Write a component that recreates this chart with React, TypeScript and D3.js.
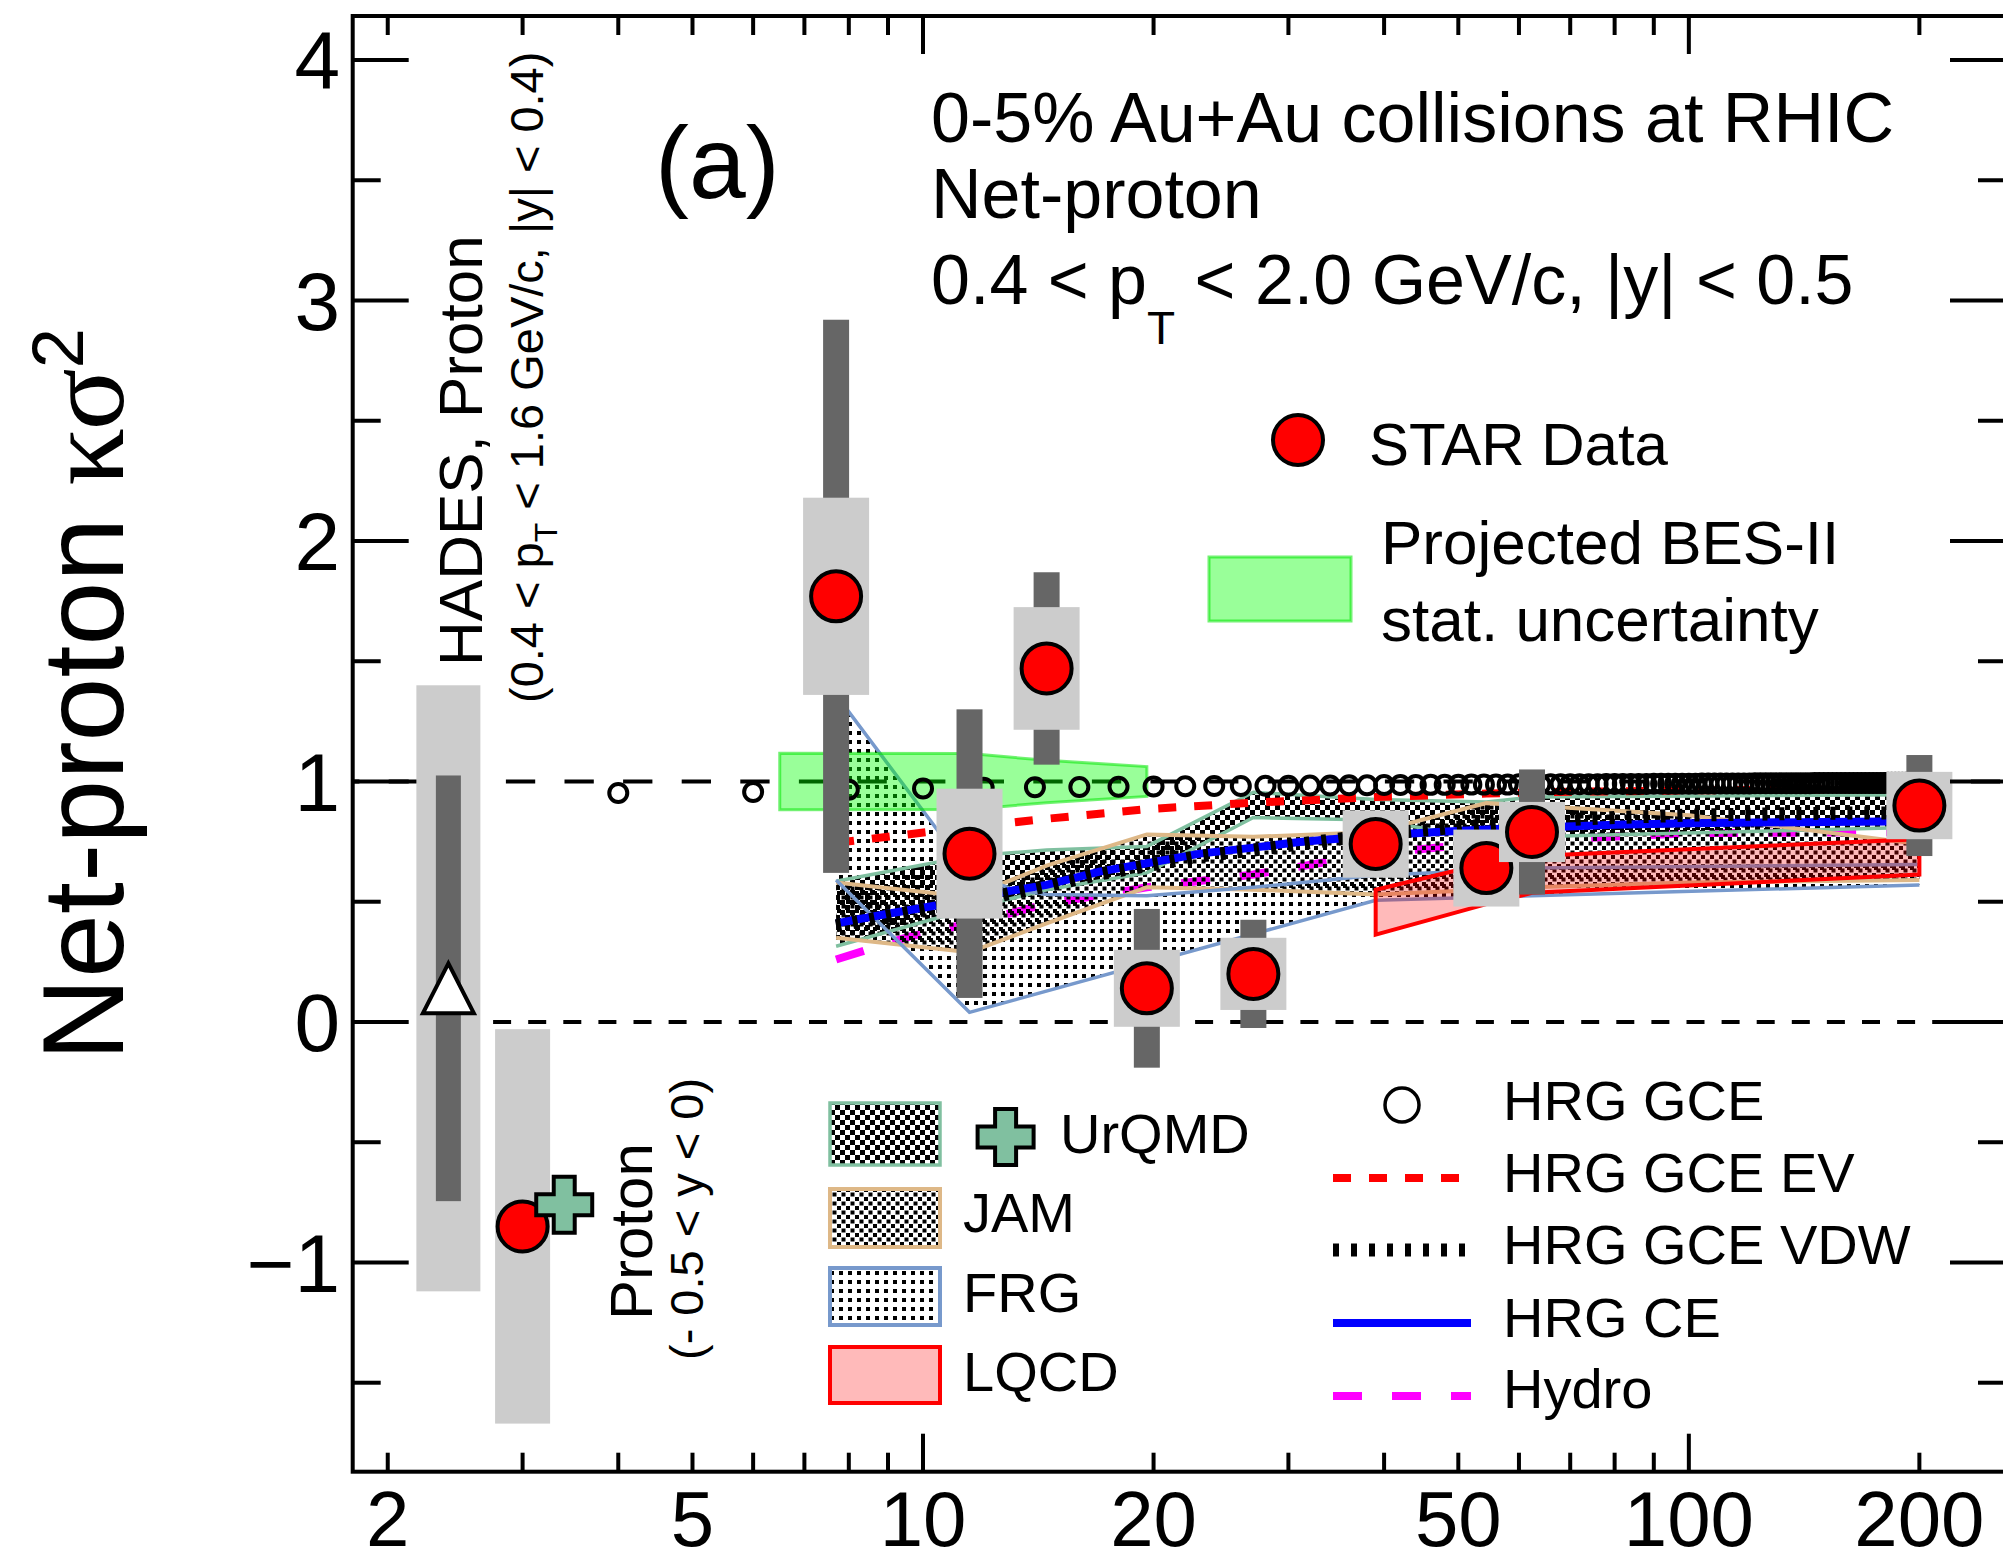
import React from 'react';
import * as d3 from 'd3';

const WIDTH = 2003;
const HEIGHT = 1564;
const FRAME = { left: 352.7, right: 2006, top: 16, bottom: 1471.7 };
const SANS = "'Liberation Sans', Arial, Helvetica, sans-serif";
const SERIF = "'Liberation Serif', 'DejaVu Serif', serif";

// Axis ticks
const xTickMajor = [10, 100];
const xTickMinor = [2, 3, 4, 5, 6, 7, 8, 9, 20, 30, 40, 50, 60, 70, 80, 90, 200];
const xTickLabels = [2, 5, 10, 20, 50, 100, 200];
const yTickMajor = [-1, 0, 1, 2, 3, 4];
const yTickMinor = [-1.5, -0.5, 0.5, 1.5, 2.5, 3.5];

// STAR net-proton kappa*sigma^2, 0-5% Au+Au collider energies
const starEnergy = [7.7, 11.5, 14.5, 19.6, 27, 39, 54.4, 62.4, 200];
const starValue = [1.77, 0.70, 1.47, 0.14, 0.20, 0.74, 0.64, 0.79, 0.90];
const starStat = [1.15, 0.60, 0.40, 0.33, 0.225, 0.10, 0.12, 0.26, 0.21];
const starSys = [0.41, 0.27, 0.255, 0.16, 0.15, 0.14, 0.16, 0.125, 0.14];

// STAR fixed-target proton point at 3 GeV and UrQMD beside it
const fxtEnergy = [3.0];
const fxtValue = [-0.85];
const fxtStat = [0.09];
const fxtSys = [0.82];
const fxtUrqmdEnergy = [3.4];
const fxtUrqmdValue = [-0.76];

// HADES proton point
const hadesEnergy = [2.4];
const hadesValue = [0.14];
const hadesStat = [0.885];
const hadesSys = [1.26];

// HRG GCE
const gceEnergy = [
  4, 6, 8, 10, 12, 14, 16, 18, 20, 22, 24, 26, 28, 30, 32, 34, 36, 38, 40, 42,
  44, 46, 48, 50, 52, 54, 56, 58, 60, 62, 64, 66, 68, 70, 72, 74, 76, 78, 80, 82,
  84, 86, 88, 90, 92, 94, 96, 98, 100, 102, 104, 106, 108, 110, 112, 114, 116, 118, 120, 122,
  124, 126, 128, 130, 132, 134, 136, 138, 140, 142, 144, 146, 148, 150, 152, 154, 156, 158, 160, 162,
  164, 166, 168, 170, 172, 174, 176, 178, 180, 182, 184, 186, 188, 190, 192, 194, 196, 198, 200,
];
const gceValue = [
  0.952, 0.956, 0.966, 0.971, 0.974, 0.976, 0.977, 0.978, 0.979, 0.980, 0.981, 0.981, 0.982, 0.982, 0.983, 0.983, 0.984, 0.984, 0.985, 0.985,
  0.985, 0.986, 0.986, 0.986, 0.987, 0.987, 0.987, 0.987, 0.988, 0.988, 0.988, 0.988, 0.989, 0.989, 0.989, 0.989, 0.989, 0.990, 0.990, 0.990,
  0.990, 0.990, 0.990, 0.991, 0.991, 0.991, 0.991, 0.991, 0.991, 0.991, 0.992, 0.992, 0.992, 0.992, 0.992, 0.992, 0.992, 0.992, 0.992, 0.993,
  0.993, 0.993, 0.993, 0.993, 0.993, 0.993, 0.993, 0.993, 0.993, 0.993, 0.993, 0.994, 0.994, 0.994, 0.994, 0.994, 0.994, 0.994, 0.994, 0.994,
  0.994, 0.994, 0.994, 0.994, 0.994, 0.994, 0.994, 0.994, 0.994, 0.995, 0.995, 0.995, 0.995, 0.995, 0.995, 0.995, 0.995, 0.995, 0.995,
];

// HRG GCE with excluded volume
const evEnergy = [7.7, 11.5, 14.5, 19.6, 27, 39, 54.4, 62.4, 100, 200];
const evValue = [0.745, 0.81, 0.845, 0.885, 0.912, 0.935, 0.95, 0.955, 0.963, 0.97];

// HRG GCE with van der Waals interactions
const vdwEnergy = [7.7, 9, 11.5, 14.5, 17, 19.6, 23, 27, 31, 39, 54.4, 62.4, 80, 100, 150, 200];
const vdwValue = [0.40, 0.44, 0.50, 0.565, 0.615, 0.65, 0.69, 0.715, 0.74, 0.78, 0.82, 0.835, 0.85, 0.86, 0.868, 0.87];

// HRG canonical ensemble
const ceEnergy = [7.7, 9, 10, 11.5, 13, 14.5, 17, 19.6, 23, 27, 31, 39, 47, 54.4, 62.4, 80, 100, 150, 200];
const ceValue = [0.41, 0.45, 0.475, 0.51, 0.545, 0.57, 0.625, 0.66, 0.70, 0.725, 0.748, 0.775, 0.79, 0.80, 0.808, 0.82, 0.826, 0.832, 0.835];

// Hydrodynamics
const hydroEnergy = [7.7, 9.6, 11.5, 14.5, 19.6, 27, 39, 54.4, 62.4, 100, 200];
const hydroValue = [0.26, 0.355, 0.41, 0.49, 0.56, 0.613, 0.70, 0.745, 0.755, 0.785, 0.79];

// UrQMD band
const urqmdEnergy = [7.7, 11.5, 14.5, 19.6, 27, 39, 54.4, 62.4, 200];
const urqmdUpper = [0.585, 0.69, 0.715, 0.73, 0.955, 0.925, 0.915, 0.935, 0.945];
const urqmdLower = [0.315, 0.47, 0.55, 0.62, 0.85, 0.84, 0.76, 0.77, 0.81];

// JAM band
const jamEnergy = [7.7, 11.5, 14.5, 19.6, 27, 39, 54.4, 62.4, 100, 200];
const jamUpper = [0.58, 0.52, 0.65, 0.78, 0.77, 0.79, 0.91, 0.90, 0.86, 0.74];
const jamLower = [0.35, 0.29, 0.41, 0.56, 0.55, 0.53, 0.55, 0.56, 0.58, 0.59];

// FRG band
const frgUpperEnergy = [7.7, 11.5, 13, 14.5, 19.6, 27, 39, 54.4, 62.4, 200];
const frgUpper = [1.36, 0.62, 0.555, 0.53, 0.525, 0.56, 0.61, 0.63, 0.64, 0.655];
const frgLowerEnergy = [7.7, 11.5, 39, 200];
const frgLower = [0.59, 0.04, 0.506, 0.57];

// Lattice QCD band
const lqcdEnergy = [39, 54.4, 62.4, 200];
const lqcdUpper = [0.55, 0.66, 0.69, 0.76];
const lqcdLower = [0.363, 0.49, 0.537, 0.613];

// Projected BES-II statistical uncertainty around unity
const besEnergy = [6.5, 11.5, 14.5, 19.6];
const besUpper = [1.117, 1.116, 1.088, 1.062];
const besLower = [0.883, 0.884, 0.912, 0.938];

const COL = {
  urqmd: '#80c0a0',
  jam: '#deb887',
  frg: '#7799cc',
  sys: '#cccccc',
  stat: '#666666',
};

type Pt = [number, number];

export default function App() {
  const x = d3.scaleLog().domain([1.8, 259.5]).range([FRAME.left, FRAME.right]);
  const y = d3.scaleLinear().domain([-1.87, 4.183]).range([FRAME.bottom, FRAME.top]);
  const line = d3.line<Pt>();
  const pts = (es: number[], vs: number[]): Pt[] => es.map((e, i) => [x(e), y(vs[i])] as Pt);
  const curve = (es: number[], vs: number[]) => line(pts(es, vs)) || '';
  const band = (eu: number[], vu: number[], el: number[], vl: number[]) =>
    (line([...pts(eu, vu), ...pts(el, vl).reverse()]) || '') + 'Z';

  const crossPts = (cx: number, cy: number) => {
    const a = 10.5;
    const s = 28;
    const p = [
      [-a, -s], [a, -s], [a, -a], [s, -a], [s, a], [a, a], [a, s], [-a, s], [-a, a], [-s, a], [-s, -a], [-a, -a],
    ];
    return p.map(([dx, dy]) => `${cx + dx},${cy + dy}`).join(' ');
  };

  const SYS_W = 66;
  const STAT_W = 26;

  return (
    <svg
      width={WIDTH}
      height={HEIGHT}
      viewBox={`0 0 ${WIDTH} ${HEIGHT}`}
      style={{ position: 'absolute', left: 0, top: 0, background: '#fff' }}
    >
      <defs>
        <clipPath id="plotArea">
          <rect x={FRAME.left} y={FRAME.top} width={FRAME.right - FRAME.left} height={FRAME.bottom - FRAME.top} />
        </clipPath>
        <pattern id="patUrqmd" patternUnits="userSpaceOnUse" width="10" height="10">
          <rect x="0" y="0" width="5" height="5" fill="#000" />
          <rect x="5" y="5" width="5" height="5" fill="#000" />
        </pattern>
        <pattern id="patJam" patternUnits="userSpaceOnUse" width="9" height="9">
          <rect x="0" y="0" width="4" height="4" fill="#000" />
          <rect x="4.5" y="4.5" width="4" height="4" fill="#000" />
        </pattern>
        <pattern id="patFrg" patternUnits="userSpaceOnUse" width="9" height="9">
          <rect x="2" y="2" width="4" height="4" fill="#000" />
        </pattern>
      </defs>

      <rect x={0} y={0} width={WIDTH} height={HEIGHT} fill="#fff" />

      {/* reference lines at 0 and 1 */}
      <line x1={FRAME.left} x2={FRAME.right} y1={y(1)} y2={y(1)} stroke="#000" strokeWidth={4}
        strokeDasharray="29.3 29.3" strokeDashoffset={22.6} />
      <line x1={FRAME.left} x2={FRAME.right} y1={y(0)} y2={y(0)} stroke="#000" strokeWidth={4}
        strokeDasharray="18 17.1" />

      <g clipPath="url(#plotArea)">
        {/* Hydro, underneath the model bands */}
        <path d={curve(hydroEnergy, hydroValue)} fill="none" stroke="#ff00ff" strokeWidth={8}
          strokeDasharray="29 30" />

        {/* model bands */}
        <path d={band(urqmdEnergy, urqmdUpper, urqmdEnergy, urqmdLower)} fill="url(#patUrqmd)" />
        <path d={band(jamEnergy, jamUpper, jamEnergy, jamLower)} fill="url(#patJam)" />
        <path d={band(frgUpperEnergy, frgUpper, frgLowerEnergy, frgLower)} fill="url(#patFrg)" />

        <path d={curve(urqmdEnergy, urqmdUpper)} fill="none" stroke={COL.urqmd} strokeWidth={3.5} />
        <path d={curve(urqmdEnergy, urqmdLower)} fill="none" stroke={COL.urqmd} strokeWidth={3.5} />
        <path d={curve(jamEnergy, jamUpper)} fill="none" stroke={COL.jam} strokeWidth={4} />
        <path d={curve(jamEnergy, jamLower)} fill="none" stroke={COL.jam} strokeWidth={4} />
        <path d={curve(frgUpperEnergy, frgUpper)} fill="none" stroke={COL.frg} strokeWidth={3.5} />
        <path d={curve(frgLowerEnergy, frgLower)} fill="none" stroke={COL.frg} strokeWidth={3.5} />

        <path d={band(lqcdEnergy, lqcdUpper, lqcdEnergy, lqcdLower)} fill="rgba(255,0,0,0.27)"
          stroke="#ff0000" strokeWidth={4} strokeLinejoin="miter" />

        {/* projected BES-II uncertainty */}
        <path d={band(besEnergy, besUpper, besEnergy, besLower)} fill="rgba(0,255,0,0.4)"
          stroke="rgba(0,230,0,0.55)" strokeWidth={3} />

        {/* HRG curves */}
        <path d={curve(evEnergy, evValue)} fill="none" stroke="#ff0000" strokeWidth={8} strokeDasharray="18 18" />
        <path d={curve(ceEnergy, ceValue)} fill="none" stroke="#0000ff" strokeWidth={8} />
        <path d={curve(vdwEnergy, vdwValue)} fill="none" stroke="#000" strokeWidth={13} strokeDasharray="5 12" />

        {gceEnergy.map((e, i) => (
          <circle key={`gce${i}`} cx={x(e)} cy={y(gceValue[i])} r={9} fill="none" stroke="#000" strokeWidth={4} />
        ))}

        {/* HADES */}
        {hadesEnergy.map((e, i) => (
          <g key={`hades${i}`}>
            <rect x={x(e) - 32} width={64} y={y(hadesValue[i] + hadesSys[i])}
              height={y(hadesValue[i] - hadesSys[i]) - y(hadesValue[i] + hadesSys[i])} fill={COL.sys} />
            <rect x={x(e) - 12.5} width={25} y={y(hadesValue[i] + hadesStat[i])}
              height={y(hadesValue[i] - hadesStat[i]) - y(hadesValue[i] + hadesStat[i])} fill={COL.stat} />
            <polygon
              points={`${x(e)},${y(hadesValue[i]) - 25} ${x(e) - 25.5},${y(hadesValue[i]) + 25} ${x(e) + 25.5},${y(hadesValue[i]) + 25}`}
              fill="#fff" stroke="#000" strokeWidth={4} strokeLinejoin="miter" />
          </g>
        ))}

        {/* 3 GeV fixed target */}
        {fxtEnergy.map((e, i) => (
          <g key={`fxt${i}`}>
            <rect x={x(e) - 27.5} width={55} y={y(fxtValue[i] + fxtSys[i])}
              height={y(fxtValue[i] - fxtSys[i]) - y(fxtValue[i] + fxtSys[i])} fill={COL.sys} />
            <rect x={x(e) - STAT_W / 2} width={STAT_W} y={y(fxtValue[i] + fxtStat[i])}
              height={y(fxtValue[i] - fxtStat[i]) - y(fxtValue[i] + fxtStat[i])} fill={COL.stat} />
            <circle cx={x(e)} cy={y(fxtValue[i])} r={25} fill="#ff0000" stroke="#000" strokeWidth={4} />
          </g>
        ))}
        {fxtUrqmdEnergy.map((e, i) => (
          <polygon key={`fxtu${i}`} points={crossPts(x(e), y(fxtUrqmdValue[i]))} fill={COL.urqmd}
            stroke="#000" strokeWidth={4} strokeLinejoin="miter" />
        ))}

        {/* STAR collider data */}
        {starEnergy.map((e, i) => (
          <g key={`star${i}`}>
            <rect x={x(e) - STAT_W / 2} width={STAT_W} y={y(starValue[i] + starStat[i])}
              height={y(starValue[i] - starStat[i]) - y(starValue[i] + starStat[i])} fill={COL.stat} />
            <rect x={x(e) - SYS_W / 2} width={SYS_W} y={y(starValue[i] + starSys[i])}
              height={y(starValue[i] - starSys[i]) - y(starValue[i] + starSys[i])} fill={COL.sys} />
            <circle cx={x(e)} cy={y(starValue[i])} r={25} fill="#ff0000" stroke="#000" strokeWidth={4} />
          </g>
        ))}
      </g>

      {/* frame and ticks */}
      <rect x={FRAME.left} y={FRAME.top} width={FRAME.right - FRAME.left} height={FRAME.bottom - FRAME.top}
        fill="none" stroke="#000" strokeWidth={4} />
      <g stroke="#000" strokeWidth={4}>
        {xTickMinor.map((t) => (
          <g key={`xm${t}`}>
            <line x1={x(t)} x2={x(t)} y1={FRAME.bottom} y2={FRAME.bottom - 19} />
            <line x1={x(t)} x2={x(t)} y1={FRAME.top} y2={FRAME.top + 19} />
          </g>
        ))}
        {xTickMajor.map((t) => (
          <g key={`xM${t}`}>
            <line x1={x(t)} x2={x(t)} y1={FRAME.bottom} y2={FRAME.bottom - 38} />
            <line x1={x(t)} x2={x(t)} y1={FRAME.top} y2={FRAME.top + 38} />
          </g>
        ))}
        {yTickMinor.map((t) => (
          <g key={`ym${t}`}>
            <line x1={FRAME.left} x2={FRAME.left + 28} y1={y(t)} y2={y(t)} />
            <line x1={FRAME.right} x2={FRAME.right - 28} y1={y(t)} y2={y(t)} />
          </g>
        ))}
        {yTickMajor.map((t) => (
          <g key={`yM${t}`}>
            <line x1={FRAME.left} x2={FRAME.left + 56} y1={y(t)} y2={y(t)} />
            <line x1={FRAME.right} x2={FRAME.right - 56} y1={y(t)} y2={y(t)} />
          </g>
        ))}
      </g>

      {/* tick labels */}
      <g fontFamily={SANS} fill="#000">
        {xTickLabels.map((t) => (
          <text key={`xl${t}`} x={x(t)} y={1546} fontSize={78} textAnchor="middle">{t}</text>
        ))}
        {yTickMajor.map((t) => (
          <text key={`yl${t}`} x={340} y={y(t) + 29.4} fontSize={82} textAnchor="end">{t < 0 ? `\u2212${-t}` : `${t}`}</text>
        ))}
      </g>

      {/* y-axis title */}
      <text transform="translate(123,1061) rotate(-90)" fontFamily={SANS} fontSize={115} fill="#000">
        Net-proton <tspan fontFamily={SERIF}>κσ</tspan>
        <tspan fontSize={72} dy={-40}>2</tspan>
      </text>

      {/* panel label and header */}
      <text x={655} y={198} fontFamily={SANS} fontSize={102}>(a)</text>
      <g fontFamily={SANS} fontSize={70} fill="#000">
        <text x={931} y={141.6}>0-5% Au+Au collisions at RHIC</text>
        <text x={931} y={218}>Net-proton</text>
        <text x={931} y={304}>
          0.4 &lt; p<tspan fontSize={46} dy={40}>T</tspan>
          <tspan dy={-40}> &lt; 2.0 GeV/c, |y| &lt; 0.5</tspan>
        </text>
      </g>

      {/* HADES and 3 GeV annotations */}
      <g fontFamily={SANS} fill="#000">
        <text transform="translate(482,666) rotate(-90)" fontSize={62}>HADES, Proton</text>
        <text transform="translate(543,703) rotate(-90)" fontSize={47}>
          (0.4 &lt; p<tspan fontSize={32} dy={14}>T</tspan>
          <tspan dy={-14}> &lt; 1.6 GeV/c, |y| &lt; 0.4)</tspan>
        </text>
        <text transform="translate(652,1320) rotate(-90)" fontSize={60}>Proton</text>
        <text transform="translate(703,1360) rotate(-90)" fontSize={47}>(- 0.5 &lt; y &lt; 0)</text>
      </g>

      {/* legend: data and projection */}
      <g fontFamily={SANS} fill="#000">
        <circle cx={1298} cy={440} r={25} fill="#ff0000" stroke="#000" strokeWidth={4} />
        <text x={1369} y={465} fontSize={60}>STAR Data</text>
        <rect x={1209} y={557} width={142} height={64} fill="rgba(0,255,0,0.4)" stroke="rgba(0,230,0,0.55)" strokeWidth={3} />
        <text x={1381} y={564} fontSize={62}>Projected BES-II</text>
        <text x={1381} y={641} fontSize={62}>stat. uncertainty</text>
      </g>

      {/* legend: transport, FRG, lattice */}
      <g fontFamily={SANS} fontSize={56} fill="#000">
        <rect x={830} y={1103} width={110} height={62} fill="url(#patUrqmd)" stroke={COL.urqmd} strokeWidth={3.5} />
        <polygon points={crossPts(1005.6, 1137)} fill={COL.urqmd} stroke="#000" strokeWidth={4} />
        <text x={1060} y={1153}>UrQMD</text>
        <rect x={830} y={1189} width={110} height={58} fill="url(#patJam)" stroke={COL.jam} strokeWidth={4} />
        <text x={963} y={1232}>JAM</text>
        <rect x={830} y={1268} width={110} height={57} fill="url(#patFrg)" stroke={COL.frg} strokeWidth={4} />
        <text x={963} y={1312}>FRG</text>
        <rect x={830} y={1347} width={110} height={56} fill="rgba(255,0,0,0.27)" stroke="#ff0000" strokeWidth={4} />
        <text x={963} y={1391}>LQCD</text>
      </g>

      {/* legend: HRG and hydro */}
      <g fontFamily={SANS} fontSize={56} fill="#000">
        <circle cx={1402} cy={1105} r={17} fill="none" stroke="#000" strokeWidth={3.5} />
        <text x={1503} y={1120}>HRG GCE</text>
        <line x1={1333} x2={1471} y1={1178} y2={1178} stroke="#ff0000" strokeWidth={8} strokeDasharray="18 18" />
        <text x={1503} y={1192}>HRG GCE EV</text>
        <line x1={1333} x2={1471} y1={1250} y2={1250} stroke="#000" strokeWidth={13} strokeDasharray="6 12" />
        <text x={1503} y={1264}>HRG GCE VDW</text>
        <line x1={1333} x2={1471} y1={1323} y2={1323} stroke="#0000ff" strokeWidth={8} />
        <text x={1503} y={1337}>HRG CE</text>
        <line x1={1333} x2={1471} y1={1396} y2={1396} stroke="#ff00ff" strokeWidth={8} strokeDasharray="29 30" />
        <text x={1503} y={1408}>Hydro</text>
      </g>
    </svg>
  );
}
